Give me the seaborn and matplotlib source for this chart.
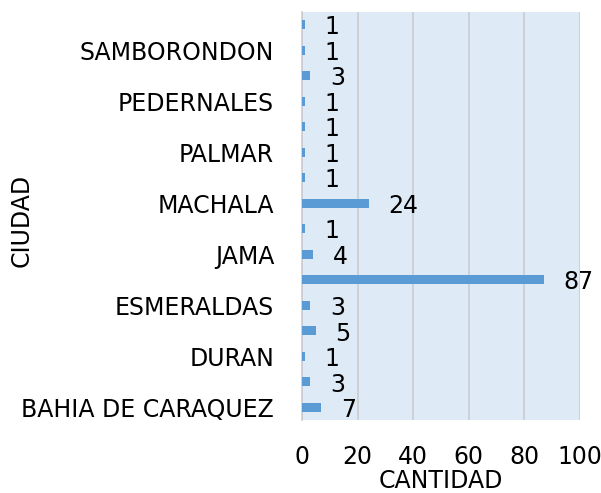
import matplotlib
matplotlib.use("Agg")
import matplotlib.pyplot as plt
import seaborn as sns
import pandas as pd

# cities from bottom to top; only every other name is shown on the axis
cities = ["BAHIA DE CARAQUEZ", "CHONE", "DURAN", "EL CARMEN", "ESMERALDAS",
          "GUAYAQUIL", "JAMA", "LA LIBERTAD", "MACHALA", "MANTA", "PALMAR",
          "PASAJE", "PEDERNALES", "QUITO", "SAMBORONDON", "SANTA ELENA"]
counts = [7, 3, 1, 5, 3, 87, 4, 1, 24, 1, 1, 1, 1, 3, 1, 1]
xticks = [0, 20, 40, 60, 80, 100]

data = pd.DataFrame({"CIUDAD": cities, "CANTIDAD": counts})

sns.set_theme(style="white")
plt.rcParams["font.family"] = ["DejaVu Sans"]
plt.rcParams["text.color"] = "black"
plt.rcParams["axes.labelcolor"] = "black"
plt.rcParams["xtick.color"] = "black"
plt.rcParams["ytick.color"] = "black"

fig = plt.figure(figsize=(6.01, 4.93), dpi=100)
ax = fig.add_axes([0.5025, 0.148, 0.4625, 0.828])
ax.set_facecolor("#DEEAF6")

order = cities[::-1]
sns.barplot(data=data, y="CIUDAD", x="CANTIDAD", order=order, orient="h",
            color="#5B9BD5", saturation=1, width=0.35, linewidth=0,
            ax=ax, zorder=3)

fs = 17

# value labels
for i, city in enumerate(order):
    v = counts[cities.index(city)]
    ax.annotate(str(v), xy=(v, i), xytext=(14, -2), textcoords="offset points",
                va="center", ha="left", fontsize=fs, color="black",
                annotation_clip=False)

ax.set_xlim(0, 100)
ax.set_xticks(xticks)
ax.set_xticklabels([str(t) for t in xticks], fontsize=fs)
ax.set_ylim(len(order) - 0.5, -0.5)

labels = [c if (len(order) - 1 - i) % 2 == 0 else "" for i, c in enumerate(order)]
ax.set_yticks(range(len(order)))
ax.set_yticklabels(labels, fontsize=fs)

ax.grid(axis="x", color="#C9CDD2", linewidth=1.2, zorder=0)
ax.set_axisbelow(True)
for side in ["top", "right", "bottom"]:
    ax.spines[side].set_visible(False)
ax.spines["left"].set_color("#C9CDD2")
ax.spines["left"].set_linewidth(1.2)
ax.tick_params(axis="x", length=0, pad=18)
ax.tick_params(axis="y", length=0, pad=20)

ax.set_xlabel("CANTIDAD", fontsize=fs, labelpad=0)
ax.set_ylabel("CIUDAD", fontsize=fs)
ax.yaxis.set_label_coords(-0.965, 0.49)

fig.savefig("out.png", dpi=100)
